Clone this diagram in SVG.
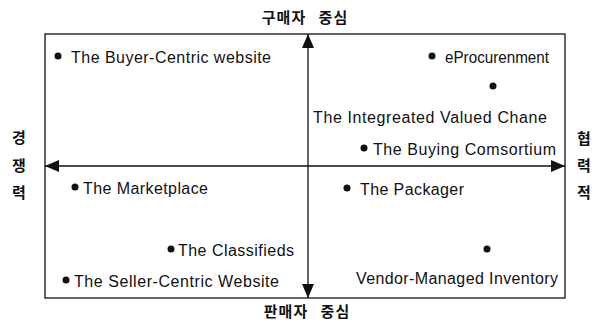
<svg xmlns="http://www.w3.org/2000/svg" width="600" height="323" viewBox="0 0 600 323">
<style>
.t{font-family:"Liberation Sans",Arial,sans-serif;font-size:16px;fill:#111}
.k{font-family:"Noto Sans CJK KR","Noto Sans",sans-serif;font-size:15px;font-weight:bold;fill:#111}
.w{word-spacing:8px;letter-spacing:1px}
.ln{stroke:#111;stroke-width:1.3;fill:none}
.dot{fill:#111}
</style>
<defs>
<marker id="ah" viewBox="0 0 14 12" refX="14" refY="6" markerWidth="14" markerHeight="12" markerUnits="userSpaceOnUse" orient="auto">
<path d="M0,0 L14,6 L0,12 Z" fill="#111"/>
</marker>
</defs>
<rect id="frame" x="45" y="34" width="520" height="264" class="ln"/>
<g id="connectors">
<line x1="308" y1="166" x2="308" y2="34" class="ln" marker-end="url(#ah)"/>
<line x1="308" y1="166" x2="308" y2="298" class="ln" marker-end="url(#ah)"/>
<line x1="308" y1="166" x2="45" y2="166" class="ln" marker-end="url(#ah)"/>
<line x1="308" y1="166" x2="565" y2="166" class="ln" marker-end="url(#ah)"/>
</g>
<g id="axis-top"><text class="k w" x="305" y="23" text-anchor="middle">구매자 중심</text></g>
<g id="axis-bottom"><text class="k w" x="307" y="317" text-anchor="middle">판매자 중심</text></g>
<g id="axis-left">
<text class="k" x="19" y="143" text-anchor="middle">경</text>
<text class="k" x="19" y="171" text-anchor="middle">쟁</text>
<text class="k" x="19" y="198" text-anchor="middle">력</text>
</g>
<g id="axis-right">
<text class="k" x="584" y="144" text-anchor="middle">협</text>
<text class="k" x="584" y="171" text-anchor="middle">력</text>
<text class="k" x="584" y="198" text-anchor="middle">적</text>
</g>
<g id="buyer-centric">
<circle class="dot" cx="58" cy="56" r="3.5"/>
<text class="t" x="71" y="63" textLength="200" lengthAdjust="spacing">The Buyer-Centric website</text>
</g>
<g id="eprocurement">
<circle class="dot" cx="432" cy="56" r="3.5"/>
<text class="t" x="445" y="63" textLength="104" lengthAdjust="spacingAndGlyphs">eProcurenment</text>
</g>
<g id="integrated-value-chain">
<circle class="dot" cx="493" cy="86" r="3.5"/>
<text class="t" x="313" y="123" textLength="234" lengthAdjust="spacing">The Integreated Valued Chane</text>
</g>
<g id="buying-consortium">
<circle class="dot" cx="364" cy="148" r="3.5"/>
<text class="t" x="373" y="155" textLength="183" lengthAdjust="spacing">The Buying Comsortium</text>
</g>
<g id="marketplace">
<circle class="dot" cx="75" cy="187" r="3.5"/>
<text class="t" x="83" y="194" textLength="125" lengthAdjust="spacing">The Marketplace</text>
</g>
<g id="packager">
<circle class="dot" cx="347" cy="188" r="3.5"/>
<text class="t" x="360" y="195" textLength="104" lengthAdjust="spacing">The Packager</text>
</g>
<g id="classifieds">
<circle class="dot" cx="171" cy="249" r="3.5"/>
<text class="t" x="178" y="256" textLength="116" lengthAdjust="spacing">The Classifieds</text>
</g>
<g id="vendor-managed-inventory">
<circle class="dot" cx="487" cy="249" r="3.5"/>
<text class="t" x="356" y="284" textLength="202" lengthAdjust="spacing">Vendor-Managed Inventory</text>
</g>
<g id="seller-centric">
<circle class="dot" cx="66" cy="280" r="3.5"/>
<text class="t" x="74" y="287" textLength="205" lengthAdjust="spacing">The Seller-Centric Website</text>
</g>
</svg>
